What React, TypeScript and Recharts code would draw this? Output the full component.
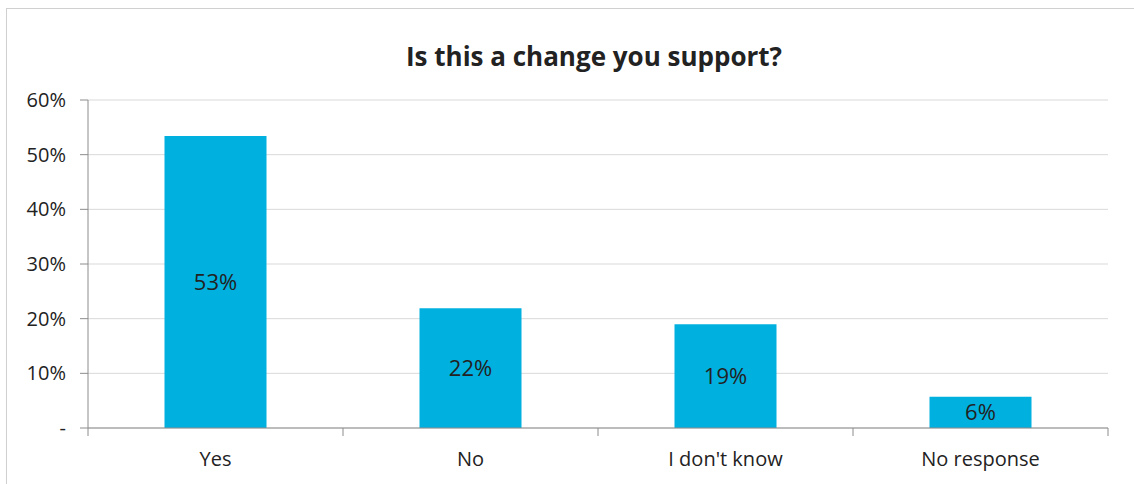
import React from 'react';
import { BarChart, Bar, XAxis, YAxis, CartesianGrid, LabelList } from 'recharts';

const categories = ['Yes', 'No', "I don't know", 'No response'];
const values = [0.534, 0.219, 0.19, 0.057];
const yTicks = [0, 0.1, 0.2, 0.3, 0.4, 0.5, 0.6];

const data = categories.map((c, i) => ({ name: c, value: values[i] }));

const FONT = '"Open Sans", sans-serif';
const TEXT = '#222222';

const fmtY = (v: number) => (v === 0 ? '-' : `${Math.round(v * 100)}%`);

const XTick = (props: any) => {
  const { x, y, payload, index, visibleTicksCount } = props;
  const off = payload && payload.offset ? payload.offset : 0;
  const last = index === (visibleTicksCount ?? categories.length) - 1;
  return (
    <g>
      <line x1={x - off} x2={x - off} y1={y - 8} y2={y} stroke="#8c8c8c" />
      {last && <line x1={x + off} x2={x + off} y1={y - 8} y2={y} stroke="#8c8c8c" />}
      <text x={x} y={y + 30} textAnchor="middle" fill={TEXT} fontSize={20} fontFamily={FONT}>
        {payload.value}
      </text>
    </g>
  );
};

export default function App() {
  return (
    <div style={{ position: 'absolute', left: 0, top: 0, width: 1134, height: 484, background: '#fff', overflow: 'hidden' }}>
      <div
        style={{
          position: 'absolute',
          left: 6,
          top: 8,
          width: 1140,
          height: 490,
          border: '1px solid #d0d0d0',
          boxSizing: 'border-box',
        }}
      />
      <svg style={{ position: 'absolute', left: 0, top: 0 }} width={1134} height={100}>
        <text
          x={594}
          y={66}
          textAnchor="middle"
          fontFamily={FONT}
          fontWeight={700}
          fontSize={26}
          fill={TEXT}
        >
          Is this a change you support?
        </text>
      </svg>
      <div style={{ position: 'absolute', left: 0, top: 0 }}>
        <BarChart
          width={1134}
          height={484}
          data={data}
          margin={{ top: 100, right: 26, bottom: 0, left: 28 }}
          barCategoryGap="30%"
        >
          <CartesianGrid vertical={false} stroke="#d9d9d9" />
          <XAxis
            dataKey="name"
            tickLine={false}
            axisLine={{ stroke: '#8c8c8c' }}
            tick={<XTick />}
            interval={0}
            height={56}
          />
          <YAxis
            domain={[0, 0.6]}
            ticks={yTicks}
            tickFormatter={fmtY}
            width={60}
            tickSize={8}
            tickMargin={14}
            tickLine={{ stroke: '#8c8c8c' }}
            axisLine={{ stroke: '#8c8c8c' }}
            tick={{ fill: TEXT, fontSize: 20, fontFamily: FONT }}
          />
          <Bar dataKey="value" fill="#00b0df" isAnimationActive={false}>
            <LabelList
              dataKey="value"
              position="center"
              formatter={(v: any) => `${Math.round(Number(v) * 100)}%`}
              fill={TEXT}
              fontSize={22}
              fontFamily={FONT}
            />
          </Bar>
        </BarChart>
      </div>
    </div>
  );
}
